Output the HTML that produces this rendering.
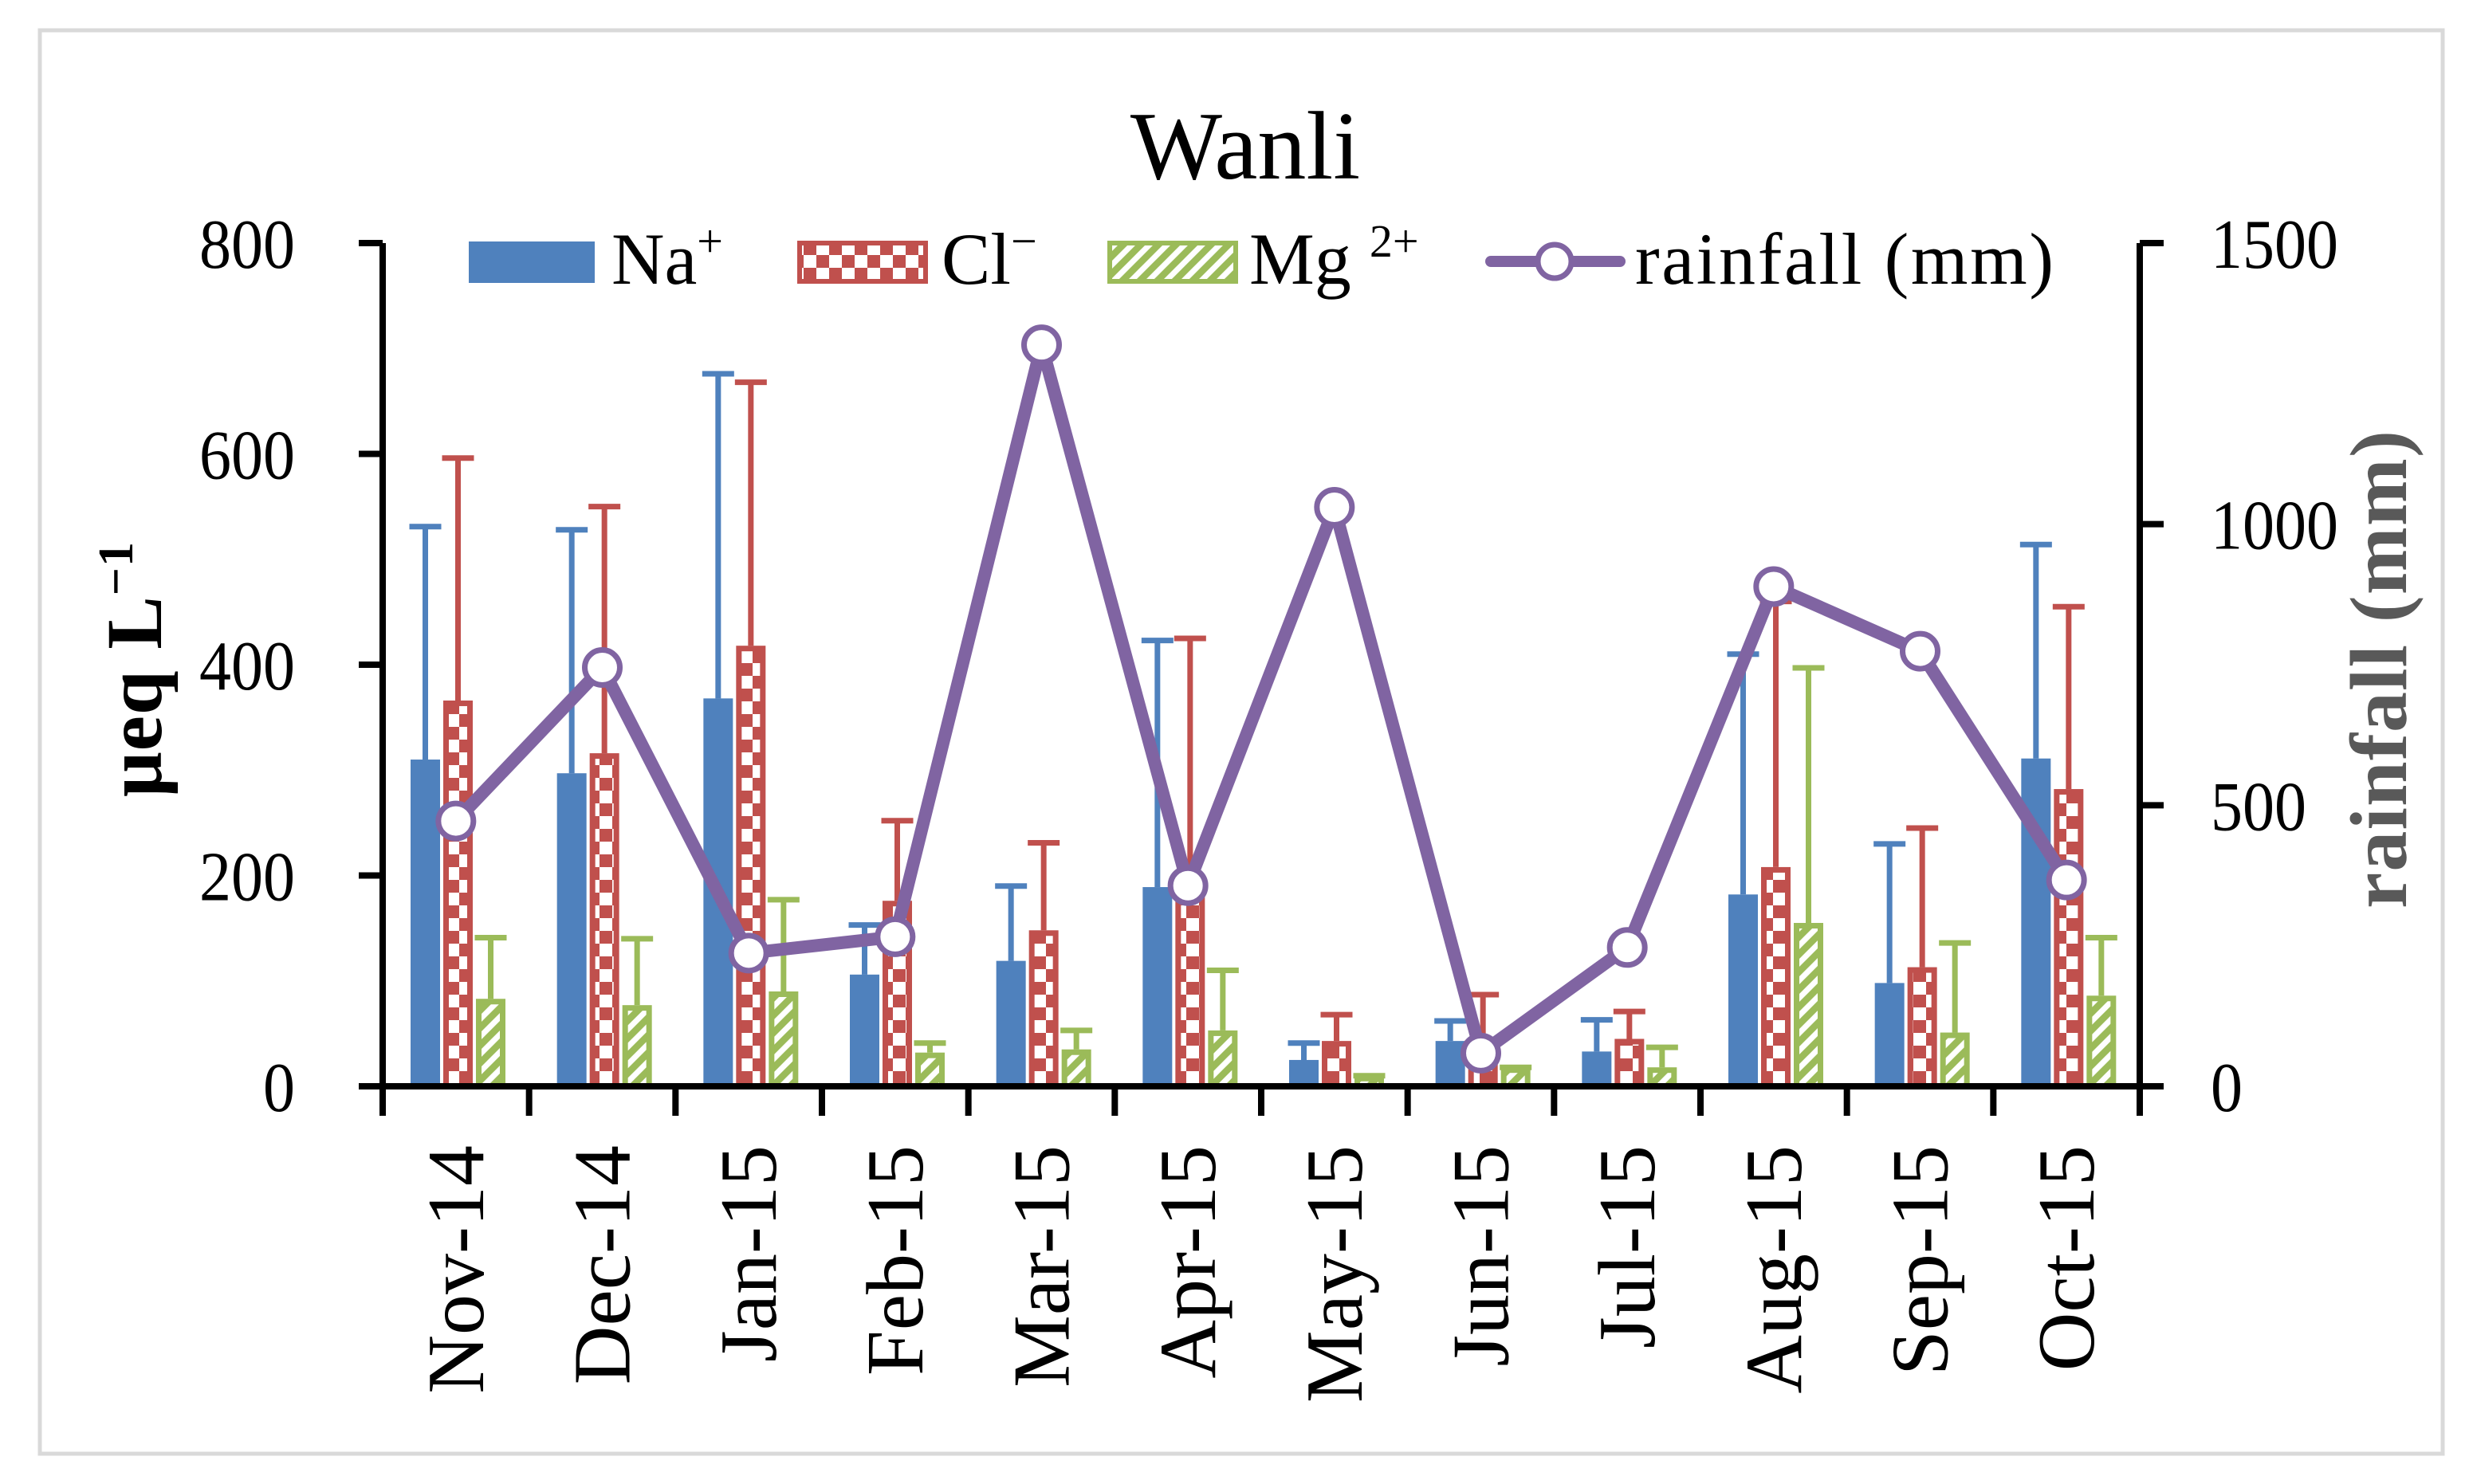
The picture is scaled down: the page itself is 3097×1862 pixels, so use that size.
<!DOCTYPE html>
<html><head><meta charset="utf-8"><style>
html,body{margin:0;padding:0;background:#fff;}
svg{display:block;font-family:"Liberation Serif",serif;}
</style></head><body>
<svg id="chart" width="3097" height="1862" viewBox="0 0 3097 1862" xmlns="http://www.w3.org/2000/svg">
<defs>
<pattern id="checker" width="32" height="32" patternUnits="userSpaceOnUse">
<rect width="32" height="32" fill="#fff"/><rect width="16" height="16" fill="#c0504d"/><rect x="16" y="16" width="16" height="16" fill="#c0504d"/>
</pattern>
<pattern id="hatch" width="22" height="22" patternUnits="userSpaceOnUse">
<rect width="22" height="22" fill="#9bbb59"/><path d="M-5,16 L16,-5 M6,27 L27,6" stroke="#fff" stroke-width="7"/>
</pattern>
</defs>
<rect x="50" y="38" width="3014" height="1786" fill="#fff" stroke="#d9d9d9" stroke-width="5"/>
<text x="1562" y="224" font-size="122" text-anchor="middle">Wanli</text>
<g id="plot"></g>
<g id="legend">
<rect x="588" y="303" width="158" height="52" fill="#4f81bd"/>
<text x="767" y="356" font-size="92">Na<tspan font-size="58" dy="-34">+</tspan></text>
<rect x="1003" y="305" width="158" height="48" fill="url(#checker)" stroke="#c0504d" stroke-width="6"/>
<text x="1181" y="356" font-size="92">Cl<tspan font-size="58" dy="-34">−</tspan></text>
<rect x="1392" y="305" width="158" height="48" fill="url(#hatch)" stroke="#9bbb59" stroke-width="6"/>
<text x="1567" y="356" font-size="92">Mg <tspan font-size="58" dy="-34">2+</tspan></text>
<line x1="1870" y1="328" x2="2032" y2="328" stroke="#8064a2" stroke-width="14" stroke-linecap="round"/>
<circle cx="1950" cy="328" r="21" fill="#fff" stroke="#8064a2" stroke-width="7"/>
<text x="2051" y="356" font-size="92" textLength="525">rainfall (mm)</text>
</g>
<text transform="translate(202,840) rotate(-90)" font-size="100" font-weight="bold" text-anchor="middle" textLength="320">μeq L<tspan font-size="62" dy="-36">−1</tspan></text>
<text transform="translate(3018,840) rotate(-90)" font-size="102" font-weight="bold" fill="#595959" text-anchor="middle" textLength="600">rainfall (mm)</text>
</svg>
<script>
const categories=["Nov-14","Dec-14","Jan-15","Feb-15","Mar-15","Apr-15","May-15","Jun-15","Jul-15","Aug-15","Sep-15","Oct-15"];
const naValues=[310,297,368,106,119,189,25,43,33,182,98,311];
const naErr=[531,528,676,153,190,423,41,62,63,410,230,514];
const clValues=[366,316,418,176,148,185,43,45,45,208,113,282];
const clErr=[596,550,668,252,231,425,68,87,71,460,245,455];
const mgValues=[83,77,90,32,35,53,10,18,18,155,51,86];
const mgErr=[141,140,177,41,53,110,10,18,37,397,136,141];
const rainfall=[472,745,237,266,1319,357,1030,59,247,889,774,367];
const leftTicks=[0,200,400,600,800];
const rightTicks=[0,500,1000,1500];

const NS="http://www.w3.org/2000/svg";
const X0=480,X1=2684,Y0=1363,YT=305;
const bw=(X1-X0)/categories.length;
const yL=v=>Y0-(v/800)*(Y0-YT);
const yR=v=>Y0-(v/1500)*(Y0-YT);
const catStart=i=>X0+i*bw;
const plot=document.getElementById('plot');
function mk(tag,attrs,parent){const e=document.createElementNS(NS,tag);for(const k in attrs)e.setAttribute(k,attrs[k]);(parent||plot).appendChild(e);return e;}

const series=[
 {vals:naValues,err:naErr,color:"#4f81bd",fill:"#4f81bd",off:35,name:"na"},
 {vals:clValues,err:clErr,color:"#c0504d",fill:"url(#checker)",off:76,name:"cl"},
 {vals:mgValues,err:mgErr,color:"#9bbb59",fill:"url(#hatch)",off:117,name:"mg"}
];
const W=37;
categories.forEach((c,i)=>{
 series.forEach(s=>{
  const x=catStart(i)+s.off, cx=x+W/2;
  const eline=mk('path',{d:`M${cx},${yL(s.vals[i])} L${cx},${yL(s.err[i])} M${cx-20},${yL(s.err[i])} L${cx+20},${yL(s.err[i])}`,stroke:s.color,'stroke-width':7,fill:'none'});
  
  
  let r;
  if(s.name==="na"){
   r=mk('rect',{x:x,y:yL(s.vals[i]),width:W,height:Y0-yL(s.vals[i]),fill:s.fill});
  }else{
   r=mk('rect',{x:x+3.5,y:yL(s.vals[i])+3.5,width:W-7,height:Math.max(0,Y0-yL(s.vals[i])-3.5),fill:s.fill,stroke:s.color,'stroke-width':7});
  }
  
  
 });
});
const ax=mk('path',{d:`M${X0},${YT} L${X0},${Y0} L${X1},${Y0} M${X1},${YT} L${X1},${Y0}`,stroke:'#000','stroke-width':8,fill:'none'});


leftTicks.forEach(t=>{
 const y=yL(t);
 const tk=mk('line',{x1:X0-30,y1:y,x2:X0,y2:y,stroke:'#000','stroke-width':8});
 
 
 const tx=mk('text',{x:370,y:y+31,'font-size':88,'text-anchor':'end',textLength:String(t).length*40,lengthAdjust:'spacingAndGlyphs'});
 tx.textContent=t;
 
 
});
rightTicks.forEach(t=>{
 const y=yR(t);
 const tk=mk('line',{x1:X1,y1:y,x2:X1+30,y2:y,stroke:'#000','stroke-width':8});
 
 
 const tx=mk('text',{x:2773,y:y+31,'font-size':88,textLength:String(t).length*40,lengthAdjust:'spacingAndGlyphs'});
 tx.textContent=t;
 
 
});
for(let i=0;i<=categories.length;i++){
 const x=catStart(i);
 const tk=mk('line',{x1:x,y1:Y0,x2:x,y2:Y0+37,stroke:'#000','stroke-width':8});
 
 
}
categories.forEach((c,i)=>{
 const cx=catStart(i)+bw/2+34;
 const tx=mk('text',{transform:`translate(${cx},1437) rotate(-90)`,'font-size':102,'text-anchor':'end'});
 tx.textContent=c;
 
 
});
const pts=rainfall.map((v,i)=>[catStart(i)+bw/2,yR(v)]);
const pl=mk('polyline',{points:pts.map(p=>p.join(',')).join(' '),fill:'none',stroke:'#8064a2','stroke-width':16,'stroke-linejoin':'round'});


pts.forEach((p,i)=>{
 const c=mk('circle',{cx:p[0],cy:p[1],r:22,fill:'#fff',stroke:'#8064a2','stroke-width':7});
 
 
});
</script>
</body></html>
